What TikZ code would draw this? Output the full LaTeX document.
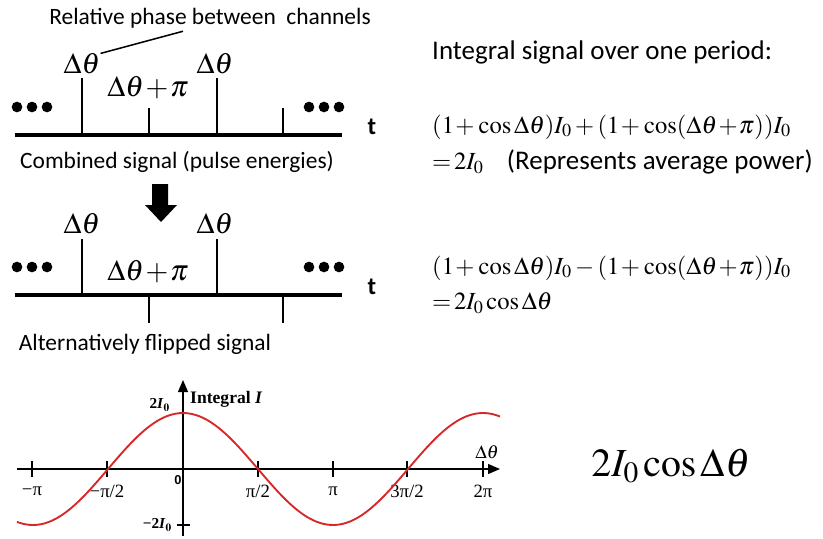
\documentclass[tikz,border=0pt]{standalone}
\usepackage{mathptmx}
\usepackage[no-math]{fontspec}
\setmainfont{Liberation Serif}
\newfontfamily\calfont{Carlito}
\newfontfamily\arialfont{Liberation Sans}
\usetikzlibrary{positioning,arrows.meta,calc}
\definecolor{cRed}{RGB}{214,40,40}
\newcommand{\tplus}{\mkern1mu{+}\mkern1mu}
\tikzset{
  captxt/.style={font=\calfont\fontsize{20}{22}\selectfont, inner sep=0pt},
  hdtxt/.style={font=\calfont\fontsize{23}{26}\selectfont, inner sep=0pt, anchor=west},
  eqtxt/.style={font=\fontsize{21}{24}\selectfont, inner sep=0pt, anchor=west},
  phstxt/.style={font=\fontsize{25}{27}\selectfont, inner sep=0pt},
  tlbl/.style={font=\calfont\bfseries\fontsize{21}{23}\selectfont, inner sep=0pt},
  sigline/.style={line width=3pt},
  pulseline/.style={line width=2.4pt},
  dotfill/.style={fill=black},
  axisline/.style={line width=1.1pt, -{Triangle[length=3.6mm,width=3mm]}},
  tickline/.style={line width=1.1pt},
  ticklbl/.style={font=\fontsize{16}{18}\selectfont, inner sep=0pt},
  ylbl/.style={font=\bfseries\fontsize{13}{15}\selectfont, inner sep=0pt},
  curveline/.style={draw=cRed, line width=1.6pt},
}

\begin{document}
\begin{tikzpicture}[x=0.03cm, y=-0.03cm]
  \useasboundingbox (0,0) rectangle (823,538);

  % ===== Combined signal (top) =========================================
  \node[captxt] (rel) at (210,18) {Relative phase between\ \ channels};
  \node[phstxt] (d1) at (82,64) {$\Delta\theta$};
  \node[phstxt] (d2) at (215,64) {$\Delta\theta$};
  \node[phstxt] (s1) at (148,88) {$\Delta\theta\tplus\pi$};
  \draw[line width=1.3pt] (d1.north east) -- ($(rel.south)+(-27,3)$);
  \coordinate (b1l) at (15,135);
  \coordinate (b1r) at (342,135);
  \draw[sigline] (b1l) -- (b1r);
  \foreach \x/\h in {82/57,149/27,217/57,283/27}
    \draw[pulseline] (\x,135) -- ++(0,-\h);
  \foreach \x in {17,32,47,309,324,339}
    \fill[dotfill] (\x,107) circle (1.6mm);
  \node[tlbl] (t1) at (372,127) {t};
  \node[captxt] (c1) at (177,162) {Combined signal (pulse energies)};

  % block arrow between the two signals
  \fill (152,184) -- (168,184) -- (168,205) -- (177,205) -- (161,222)
        -- (145,205) -- (152,205) -- cycle;

  % ===== Alternatively flipped signal ==================================
  \node[phstxt] (d3) at (82,224) {$\Delta\theta$};
  \node[phstxt] (d4) at (215,224) {$\Delta\theta$};
  \node[phstxt] (s2) at (148,272) {$\Delta\theta\tplus\pi$};
  \coordinate (b2l) at (15,295);
  \coordinate (b2r) at (342,295);
  \draw[sigline] (b2l) -- (b2r);
  \foreach \x/\h in {82/-56,149/28,217/-56,283/28}
    \draw[pulseline] (\x,295) -- ++(0,\h);
  \foreach \x in {17,32,47,309,324,339}
    \fill[dotfill] (\x,267) circle (1.6mm);
  \node[tlbl] (t2) at (372,287) {t};
  \node[captxt] (c2) at (145,344) {Alternatively flipped signal};

  % ===== Integral over one period (right) ==============================
  \node[hdtxt] (ih) at (432,52) {Integral signal over one period:};
  \node[eqtxt] (e1) at (432,127)
    {$(1\tplus\cos\Delta\theta)I_0+(1\tplus\cos(\Delta\theta\tplus\pi))I_0$};
  \node[eqtxt] (e2) at (432,162)
    {${=}\,2I_0$\hspace{7mm}{\calfont\fontsize{23}{26}\selectfont (Represents average power)}};
  \node[eqtxt] (e3) at (432,268)
    {$(1\tplus\cos\Delta\theta)I_0-(1\tplus\cos(\Delta\theta\tplus\pi))I_0$};
  \node[eqtxt] (e4) at (432,303) {${=}\,2I_0\cos\Delta\theta$};

  % ===== Cosine plot (bottom) ==========================================
  \coordinate (xl) at (17,469);
  \coordinate (xr) at (500,469);
  \coordinate (yb) at (183,536);
  \coordinate (yt) at (183,380);
  \draw[axisline] (xl) -- (xr);
  \draw[axisline] (yb) -- (yt);
  \foreach \x/\l in {32/{−π},107/{−π/2},258/{π/2},333/{π},407/{3π/2},483/{2π}}{
    \draw[tickline] (\x,461) -- (\x,477);
    \node[ticklbl] at (\x,491) {\l};
  }
  \draw[tickline] (177,525) -- (190,525);
  \node[font=\arialfont\bfseries\fontsize{11}{13}\selectfont, inner sep=0pt]
    (zero) at (178,480) {0};
  \node[ylbl, anchor=east] (ymax) at (170,405) {2\textit{I}$_{\mathbf 0}$};
  \node[ylbl, anchor=east] (ymin) at (172,525) {−2\textit{I}$_{\mathbf 0}$};
  \node[font=\bfseries\fontsize{15}{17}\selectfont, inner sep=0pt, anchor=west]
    (ilbl) at (190,399) {Integral \textit{I}};
  \node[ticklbl] (dth) at (487,452) {$\Delta\theta$};
  \draw[curveline] plot[domain=17:500, samples=120, smooth]
    (\x, {469-56*cos((\x-183)/75*90)});

  \node[font=\fontsize{34}{40}\selectfont, inner sep=0pt] (res) at (671,466)
    {$2I_0\cos\Delta\theta$};
\end{tikzpicture}
\end{document}
